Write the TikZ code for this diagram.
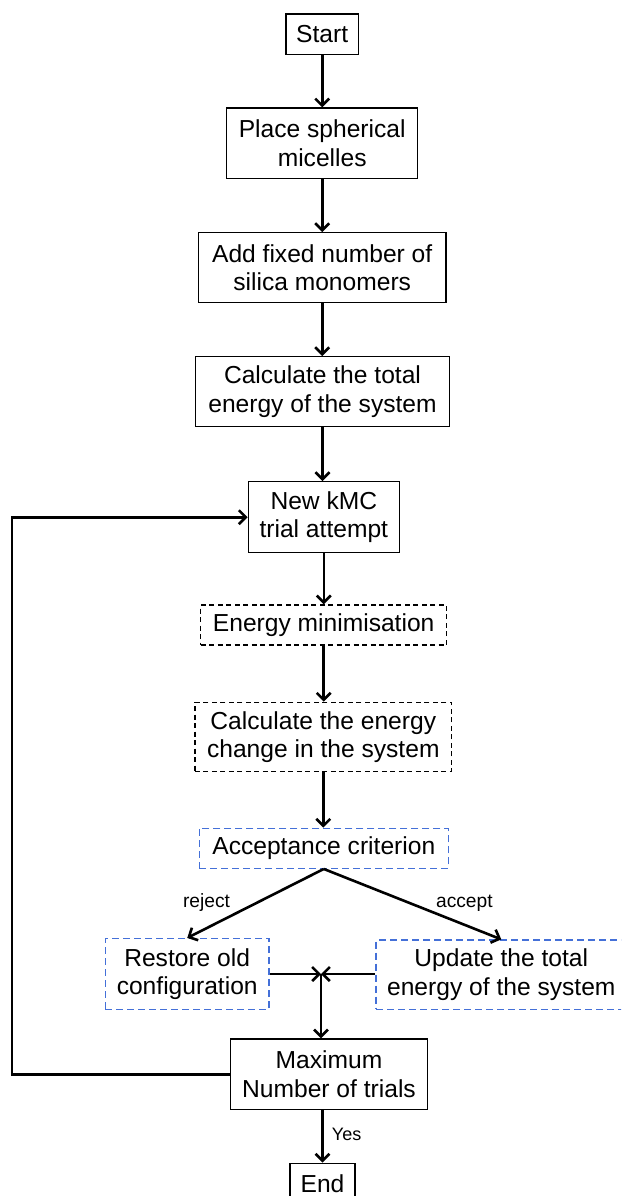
\documentclass[tikz,border=0pt]{standalone}
\usepackage{fontspec}
\setmainfont{Liberation Sans}
\usetikzlibrary{arrows.meta}
\definecolor{dashblue}{HTML}{4470D8}
\tikzset{
  boxbase/.style={rectangle, inner sep=0pt, align=center, font=\fontsize{24.6}{28.5}\selectfont, text=black},
  solidbox/.style={boxbase, draw=black, line width=1.3pt},
  blackdash/.style={boxbase, draw=black, line width=1.3pt, dash pattern=on 5pt off 3.5pt},
  bluedash/.style={boxbase, draw=dashblue, line width=1.3pt, dash pattern=on 7pt off 4pt},
  flow/.style={draw=black, line width=2.6pt, -{Straight Barb[length=7pt,width=14pt]}},
  plainline/.style={draw=black, line width=2.6pt},
  lbl/.style={inner sep=0pt, anchor=base, font=\fontsize{19.2}{22}\selectfont},
}
\begin{document}
\begin{tikzpicture}[x=1pt,y=-1pt]
\useasboundingbox (0,0) rectangle (621,1196);
\begin{scope}
\clip (0,0) rectangle (621,1196);
\node[solidbox, minimum width=72.3pt, minimum height=40.3pt] (start) at (322.2,34.2) {Start};
\node[solidbox, minimum width=191pt, minimum height=70.3pt] (place) at (322.2,143.2) {Place spherical\\micelles};
\node[solidbox, minimum width=247.7pt, minimum height=69.6pt] (add) at (322.2,267.5) {Add fixed number of\\silica monomers};
\node[solidbox, minimum width=253.6pt, minimum height=70pt] (calc) at (322.5,391.7) {Calculate the total\\energy of the system};
\node[solidbox, minimum width=151pt, minimum height=71pt] (newk) at (323.8,517.2) {New kMC\\trial attempt};
\node[blackdash, minimum width=246pt, minimum height=40pt] (emin) at (323.7,625) {Energy minimisation};
\node[blackdash, minimum width=256.7pt, minimum height=69.4pt] (chg) at (323.3,737) {Calculate the energy\\change in the system};
\node[bluedash, minimum width=249pt, minimum height=40pt] (acc) at (323.8,848.3) {Acceptance criterion};
\node[bluedash, minimum width=163.7pt, minimum height=70.8pt] (restore) at (187.2,974) {Restore old\\configuration};
\node[bluedash, minimum width=250.6pt, minimum height=69.3pt] (update) at (501.3,974.7) {Update the total\\energy of the system};
\node[solidbox, minimum width=196.6pt, minimum height=70.3pt] (maxt) at (329,1074.2) {Maximum\\Number of trials};
\node[solidbox, minimum width=65pt, minimum height=40pt] (end) at (322.5,1183.3) {End};

\coordinate (loopx) at (12,0);
\coordinate (junc) at (321,974);

\draw[flow] (start.south) -- (start.south |- place.north);
\draw[flow] (place.south) -- (place.south |- add.north);
\draw[flow] (add.south) -- (add.south |- calc.north);
\draw[flow] (calc.south) -- (calc.south |- newk.north);
\draw[flow] (newk.south) -- (newk.south |- emin.north);
\draw[flow] (emin.south) -- (emin.south |- chg.north);
\draw[flow] (chg.south) -- (chg.south |- acc.north);
\draw[flow] (acc.south) -- (restore.north);
\draw[flow] (acc.south) -- (update.north);
\draw[flow] (restore.east |- junc) -- (junc);
\draw[flow] (update.west |- junc) -- (junc);
\draw[flow] (junc) -- (junc |- maxt.north);
\draw[flow] (maxt.south -| end.north) -- (end.north);
\draw[flow] (maxt.west) -- (loopx |- maxt.west) -- (loopx |- newk.west) -- (newk.west);

\node[lbl] (rej) at (206.5,907) {reject};
\node[lbl] (accl) at (464.4,907) {accept};
\node[inner sep=0pt, anchor=base west, font=\fontsize{18}{21}\selectfont] (yes) at (331.7,1140) {Yes};
\end{scope}
\end{tikzpicture}
\end{document}
